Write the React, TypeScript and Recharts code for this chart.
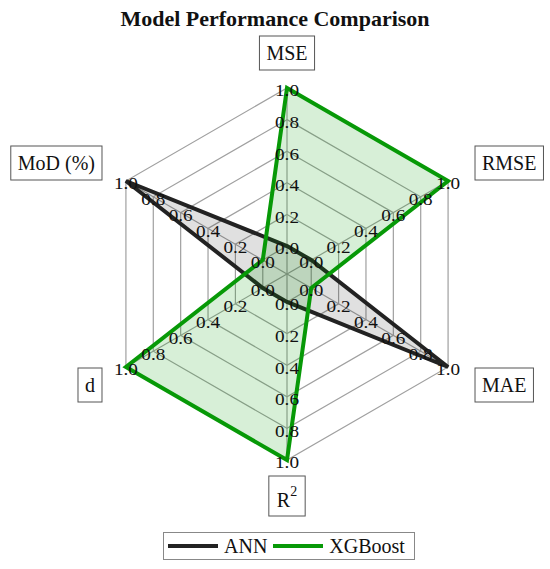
import React from 'react';
import {
  RadarChart, Radar, PolarGrid, PolarAngleAxis, PolarRadiusAxis, Legend
} from 'recharts';

// --- data ---
const metrics = ['MSE', 'RMSE', 'MAE', 'R2', 'd', 'MoD (%)'];
const annScores = [0, 0, 1, 0, 0, 1];
const xgbScores = [1, 1, 0, 1, 1, 0];
const radiusTicks = [0, 0.2, 0.4, 0.6, 0.8, 1.0];

const data = metrics.map((m, i) => ({ metric: m, ANN: annScores[i], XGBoost: xgbScores[i] }));

const SERIF = "'Liberation Serif', 'Times New Roman', serif";
const BLACK = '#222222';
const GREEN = '#079907';

// one radius axis per spoke so every spoke gets its 0.0 .. 1.0 labels
const spokeAngles = [90, 30, -30, -90, -150, 150];

let ctx: CanvasRenderingContext2D | null = null;
const textWidth = (s: string, size: number) => {
  if (!ctx) ctx = document.createElement('canvas').getContext('2d');
  if (!ctx) return s.length * size * 0.55;
  ctx.font = `${size}px ${SERIF}`;
  return ctx.measureText(s).width;
};

// tick digits in the source are drawn a bit wide, so stretch them a little
const RadiusTick = (props: any) => {
  const { x, y, payload } = props;
  return (
    <text transform={`translate(${x},${y + 3}) scale(1.2,1)`} x={0} y={0}
      textAnchor="middle" dominantBaseline="central"
      fontFamily={SERIF} fontSize={16} fill="#111">
      {Number(payload.value).toFixed(1)}
    </text>
  );
};

const AngleTick = (props: any) => {
  const { x, y, payload } = props;
  const label: string = payload.value;
  const ang = (payload.coordinate * Math.PI) / 180;
  const cos = Math.cos(ang);
  const sin = Math.sin(ang);
  const isR2 = label === 'R2';
  const fs = 20;
  const w = (isR2 ? textWidth('R', fs) + textWidth('2', 14) + 2 : textWidth(label, fs)) + 14;
  const h = isR2 ? 40 : 34;
  let left: number;
  let top: number;
  if (Math.abs(cos) < 0.1) {
    left = x - w / 2;
    top = sin > 0 ? y - 10 - h : y + 8;
  } else {
    left = cos > 0 ? x + 20 : x - 17 - w;
    const cyBox = y - Math.sign(sin) * 14;
    top = cyBox - h / 2;
  }
  const tx = left + w / 2;
  const ty = top + h / 2 + (isR2 ? 4 : 0);
  return (
    <g>
      <rect x={left} y={top} width={w} height={h} fill="#fff" stroke="#555" strokeWidth={1} />
      <text x={tx} y={ty} textAnchor="middle" dominantBaseline="central"
        fontFamily={SERIF} fontSize={fs} fill="#111">
        {isR2 ? (
          <>
            <tspan>R</tspan>
            <tspan fontSize={14} dy={-9}>2</tspan>
          </>
        ) : label}
      </text>
    </g>
  );
};

const LegendBox = () => (
  <div style={{
    display: 'flex', alignItems: 'center', gap: 6, border: '1px solid #888',
    padding: '0 4px', height: 26, width: 242, boxSizing: 'content-box',
    fontFamily: SERIF, fontSize: 20, color: '#111', background: '#fff'
  }}>
    {[{ name: 'ANN', color: BLACK }, { name: 'XGBoost', color: GREEN }].map((it) => (
      <div key={it.name} style={{ display: 'flex', alignItems: 'center', gap: 6 }}>
        <svg width={50} height={10}>
          <line x1={0} y1={5} x2={50} y2={5} stroke={it.color} strokeWidth={4} />
          <circle cx={25} cy={5} r={2} fill={it.color} />
        </svg>
        <span>{it.name}</span>
      </div>
    ))}
  </div>
);

export default function App() {
  return (
    <div style={{ position: 'absolute', left: 0, top: 0, width: 550, height: 569, background: '#fff' }}>
      <div style={{
        position: 'absolute', top: 6, left: 0, width: 550, textAlign: 'center',
        fontFamily: SERIF, fontWeight: 'bold', fontSize: 22, color: '#111'
      }}>
        Model Performance Comparison
      </div>
      <RadarChart width={550} height={569} data={data} cx={287} cy={274} outerRadius={186}
        margin={{ top: 0, right: 0, bottom: 0, left: 0 }} startAngle={90} endAngle={-270}>
        <PolarGrid gridType="polygon" stroke="#a0a0a0" strokeWidth={1.2} />
        <PolarAngleAxis dataKey="metric" tick={AngleTick} axisLine={false} tickLine={false} />
        <Radar name="ANN" dataKey="ANN" stroke={BLACK} strokeWidth={4} fill={BLACK}
          fillOpacity={0.14} isAnimationActive={false} dot={false} />
        <Radar name="XGBoost" dataKey="XGBoost" stroke={GREEN} strokeWidth={4} fill={GREEN}
          fillOpacity={0.16} isAnimationActive={false} dot={false} />
        {spokeAngles.map((a, i) => (
          <PolarRadiusAxis key={i} radiusAxisId={i} angle={a} type="number"
            domain={[-0.177, 1]} ticks={radiusTicks} allowDataOverflow
            axisLine={false} tickLine={false} tick={RadiusTick} />
        ))}
        <Legend content={LegendBox}
          wrapperStyle={{ position: 'absolute', top: 532, left: 163, width: 250 }} />
      </RadarChart>
    </div>
  );
}
